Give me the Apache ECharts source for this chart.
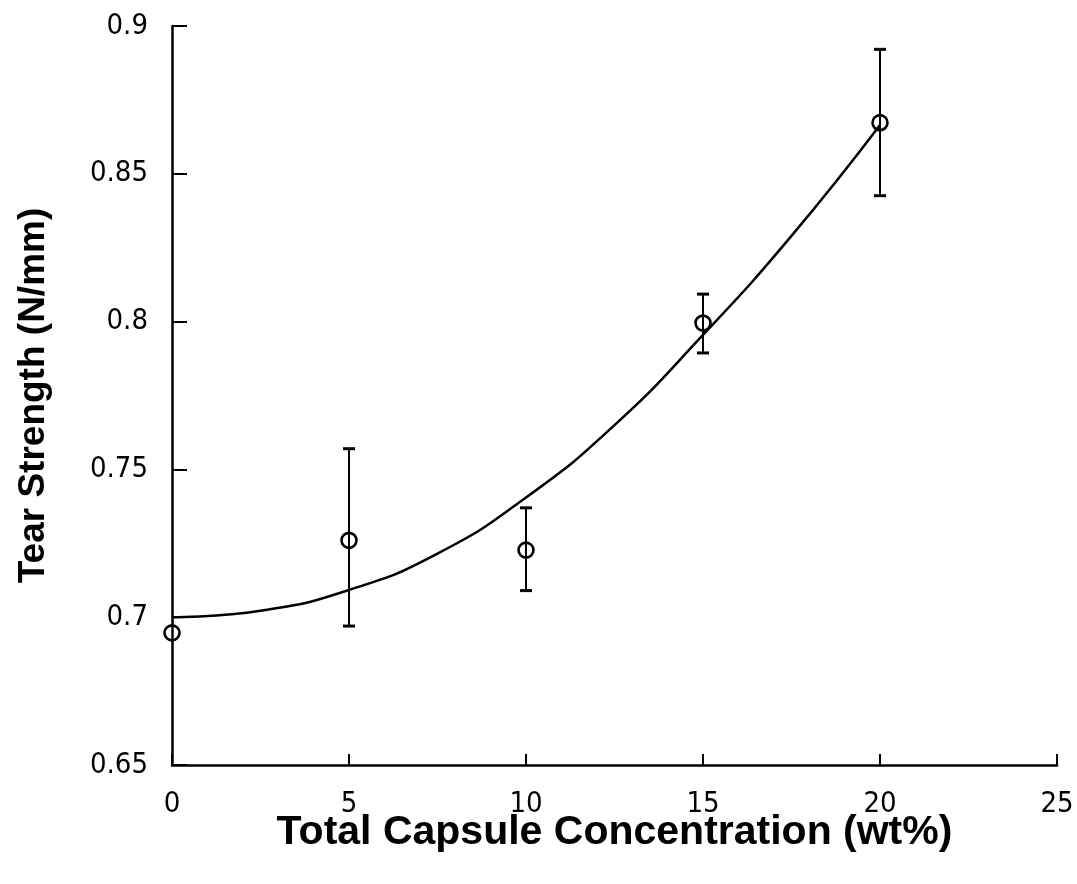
<!DOCTYPE html>
<html>
<head>
<meta charset="utf-8">
<script src="https://cdn.jsdelivr.net/npm/echarts@6/dist/echarts.min.js"></script>
<style>
html,body{margin:0;padding:0;background:#fff;}
#chart{width:1077px;height:884px;}
</style>
</head>
<body>
<div id="chart"></div>
<script>
// Measured points (x = wt%, y = tear strength N/mm)
var concentrations = [0, 5, 10, 15, 20];
var tearStrength = [0.6947, 0.726, 0.7227, 0.7995, 0.8673];
var errLow = [0.6947, 0.697, 0.709, 0.7894, 0.8426];
var errHigh = [0.6947, 0.757, 0.737, 0.8093, 0.8921];
// Fitted curve
var curveX = [0, 2.5, 5, 7.5, 10, 12.5, 15, 17.5, 20];
var curveY = [0.700, 0.7022, 0.7092, 0.7215, 0.7405, 0.765, 0.7955, 0.829, 0.8665];
var xTicks = [0, 5, 10, 15, 20, 25];
var yTicks = [0.65, 0.7, 0.75, 0.8, 0.85, 0.9];

var tickFont = '"DejaVu Sans Condensed", "Liberation Sans", Arial, sans-serif';
var titleFont = '"Liberation Sans", Arial, sans-serif';

var chart = echarts.init(document.getElementById('chart'));
var points = concentrations.map(function (x, i) { return [x, tearStrength[i]]; });
var errs = concentrations.map(function (x, i) { return [x, errLow[i], errHigh[i]]; });
var curve = curveX.map(function (x, i) { return [x, curveY[i]]; });

chart.setOption({
  animation: false,
  backgroundColor: '#fff',
  grid: { left: 172, right: 20, top: 26, bottom: 119 },
  xAxis: {
    type: 'value', min: xTicks[0], max: xTicks[xTicks.length - 1], interval: 5,
    name: 'Total Capsule Concentration (wt%)', nameLocation: 'middle', nameGap: 47,
    nameMoveOverlap: false,
    nameTextStyle: { fontFamily: titleFont, fontWeight: 'bold', fontSize: 41, color: '#000' },
    axisLine: { lineStyle: { color: '#000', width: 2.5 } },
    axisTick: { inside: true, length: 11, lineStyle: { color: '#000', width: 2 } },
    axisLabel: { fontFamily: tickFont, fontSize: 29, color: '#000', margin: 25 },
    splitLine: { show: false }
  },
  yAxis: {
    type: 'value', min: yTicks[0], max: yTicks[yTicks.length - 1], interval: 0.05,
    name: 'Tear Strength (N/mm)', nameLocation: 'middle', nameGap: 120,
    nameMoveOverlap: false,
    nameTextStyle: { fontFamily: titleFont, fontWeight: 'bold', fontSize: 37, color: '#000' },
    axisLine: { lineStyle: { color: '#000', width: 2.5 } },
    axisTick: { inside: true, length: 15, lineStyle: { color: '#000', width: 2 } },
    axisLabel: {
      fontFamily: tickFont, fontSize: 29, color: '#000', margin: 24,
      formatter: function (v) { return String(+v.toFixed(2)); }
    },
    splitLine: { show: false }
  },
  series: [
    {
      type: 'line', data: curve, smooth: true, symbol: 'none',
      lineStyle: { color: '#000', width: 2.5 }, z: 2
    },
    {
      type: 'custom', data: errs, z: 3,
      renderItem: function (params, api) {
        var x = api.value(0);
        var lo = api.coord([x, api.value(1)]);
        var hi = api.coord([x, api.value(2)]);
        if (Math.abs(lo[1] - hi[1]) < 1) return null;
        var w = 6;
        var st = { stroke: '#000', lineWidth: 2 };
        return {
          type: 'group',
          children: [
            { type: 'line', shape: { x1: lo[0], y1: lo[1], x2: hi[0], y2: hi[1] }, style: st },
            { type: 'line', shape: { x1: lo[0] - w, y1: lo[1], x2: lo[0] + w, y2: lo[1] }, style: { stroke: '#000', lineWidth: 3 } },
            { type: 'line', shape: { x1: hi[0] - w, y1: hi[1], x2: hi[0] + w, y2: hi[1] }, style: { stroke: '#000', lineWidth: 3 } }
          ]
        };
      }
    },
    {
      type: 'scatter', data: points, symbol: 'circle', symbolSize: 15, z: 4,
      itemStyle: { color: 'rgba(255,255,255,0)', borderColor: '#000', borderWidth: 2.6, opacity: 1 }
    }
  ]
});
</script>
</body>
</html>
